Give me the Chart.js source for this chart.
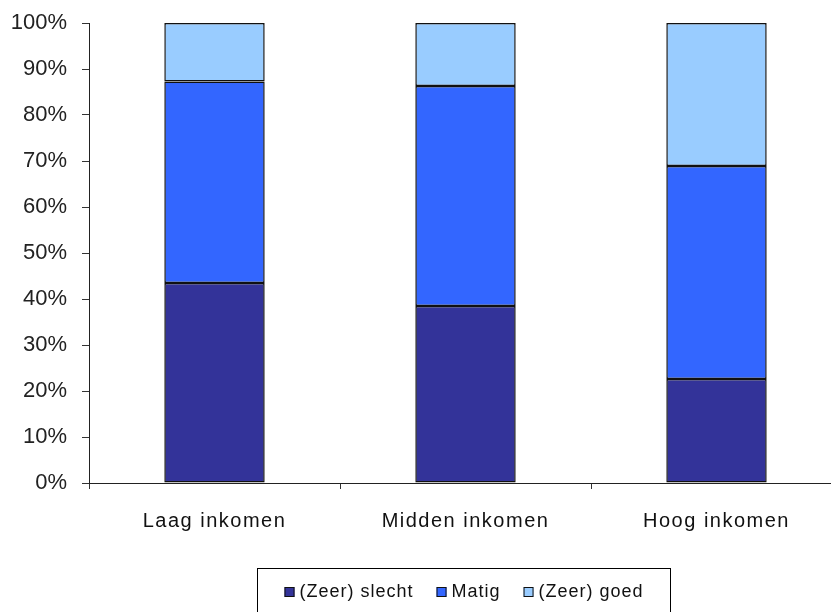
<!DOCTYPE html>
<html>
<head>
<meta charset="utf-8">
<script src="https://cdn.jsdelivr.net/npm/chart.js@4"></script>
<style>
  html, body { margin: 0; padding: 0; background: #fff; overflow: hidden; }
  #wrap { width: 845px; height: 612px; }
</style>
</head>
<body>
<div id="wrap"><canvas id="incomeChart" width="845" height="612"></canvas></div>
<script>
var categories = ['Laag inkomen', 'Midden inkomen', 'Hoog inkomen'];
var slecht = [43.5, 38.5, 22.6];
var matig  = [43.8, 47.8, 46.3];
var goed   = [12.7, 13.7, 31.1];
var yTicks = [0, 10, 20, 30, 40, 50, 60, 70, 80, 90, 100];

// legend in a framed box, drawn by hand
var boxLegend = {
  id: 'boxLegend',
  beforeDraw: function (chart) {
    // wider letter spacing on category labels
    var sx = chart.scales.x;
    if (sx && !sx._spaced) {
      var orig = sx.drawLabels;
      sx.drawLabels = function (area) {
        chart.ctx.save();
        chart.ctx.letterSpacing = '1.5px';
        orig.call(this, area);
        chart.ctx.restore();
      };
      sx._spaced = true;
    }
  },
  afterDraw: function (chart) {
    var ctx = chart.ctx;
    var area = chart.chartArea;
    ctx.save();
    ctx.font = '18px "Liberation Sans", Arial, sans-serif';
    ctx.letterSpacing = '1px';
    ctx.textBaseline = 'middle';
    var sq = 10, gapTxt = 5, gapItem = 23;
    var items = chart.data.datasets.map(function (ds) {
      return { label: ds.label, color: ds.backgroundColor, w: ctx.measureText(ds.label).width };
    });
    var total = 0;
    items.forEach(function (it, i) {
      total += sq + gapTxt + it.w + (i < items.length - 1 ? gapItem : 0);
    });
    var pad = 27;
    var cx = (area.left + area.right) / 2 - 2;
    var bx = Math.round(cx - total / 2 - pad) + 0.5;
    var bw = Math.round(total + pad * 2);
    var by = 568.5;
    ctx.strokeStyle = '#000';
    ctx.lineWidth = 1;
    ctx.strokeRect(bx, by, bw, 60);
    var x = bx + pad;
    var cy = 592;
    items.forEach(function (it) {
      ctx.fillStyle = it.color;
      ctx.fillRect(x, cy - sq / 2, sq, sq);
      ctx.strokeStyle = '#111';
      ctx.strokeRect(x + 0.5, cy - sq / 2 + 0.5, sq - 1, sq - 1);
      ctx.fillStyle = '#111';
      ctx.fillText(it.label, x + sq + gapTxt, cy);
      x += sq + gapTxt + it.w + gapItem;
    });
    ctx.restore();
  }
};

new Chart(document.getElementById('incomeChart').getContext('2d'), {
  type: 'bar',
  data: {
    labels: categories,
    datasets: [
      { label: '(Zeer) slecht', data: slecht, backgroundColor: '#333399' },
      { label: 'Matig', data: matig, backgroundColor: '#3366FF' },
      { label: '(Zeer) goed', data: goed, backgroundColor: '#99CCFF' }
    ].map(function (d) {
      d.borderColor = '#111';
      d.borderWidth = 1.5;
      d.borderSkipped = false;
      d.categoryPercentage = 1;
      d.barPercentage = 0.4;
      return d;
    })
  },
  plugins: [boxLegend],
  options: {
    responsive: false,
    animation: false,
    layout: { padding: { left: 0, top: 23, right: 3, bottom: 69 } },
    plugins: {
      legend: { display: false },
      tooltip: { enabled: false }
    },
    scales: {
      x: {
        stacked: true,
        offset: true,
        grid: { offset: true, drawOnChartArea: false, drawTicks: true, tickLength: 6, color: '#333' },
        border: { color: '#222', width: 1 },
        ticks: {
          color: '#111',
          padding: 20,
          font: { family: '"Liberation Sans", Arial, sans-serif', size: 20 }
        },
        afterFit: function (s) { s.height = 60; s.paddingLeft = 0; s.paddingRight = 0; }
      },
      y: {
        stacked: true,
        min: 0,
        max: 100,
        afterBuildTicks: function (s) {
          s.ticks = yTicks.map(function (v) { return { value: v }; });
        },
        grid: { drawOnChartArea: false, drawTicks: true, tickLength: 7, color: '#333' },
        border: { color: '#222', width: 1 },
        ticks: {
          color: '#222',
          padding: 15,
          font: { family: '"Liberation Sans", Arial, sans-serif', size: 22 },
          callback: function (v) { return v + '%'; }
        },
        afterFit: function (s) { s.width = 89; s.paddingTop = 0; s.paddingBottom = 0; }
      }
    }
  }
});
</script>
</body>
</html>
